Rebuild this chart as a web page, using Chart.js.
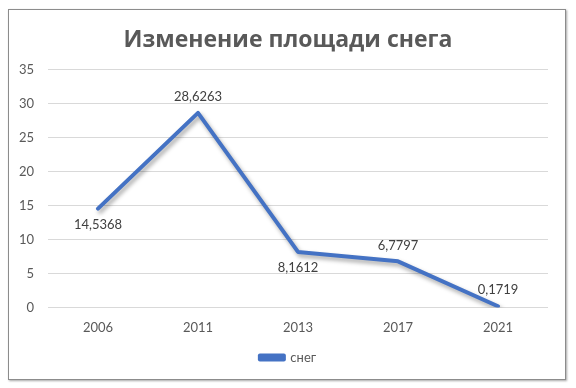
<!DOCTYPE html>
<html lang="ru">
<head>
<meta charset="UTF-8">
<title>Изменение площади снега</title>
<script src="https://cdn.jsdelivr.net/npm/chart.js"></script>
<style>
    html, body { margin: 0; padding: 0; background: #fff; }
    #wrap { position: relative; width: 576px; height: 388px; }
    #frame {
        position: absolute; left: 8px; top: 9px; width: 556px; height: 369px;
        border: 1px solid #8c8c8c; box-shadow: 1px 1px 2px rgba(0,0,0,0.35);
        pointer-events: none;
    }
    canvas { position: absolute; left: 0; top: 0; }
</style>
</head>
<body>
<div id="wrap">
    <canvas id="chart" width="576" height="388"></canvas>
    <div id="frame"></div>
</div>
<script>
// данные графика
const years = ['2006', '2011', '2013', '2017', '2021'];
const snow = [14.5368, 28.6263, 8.1612, 6.7797, 0.1719];
const seriesName = 'снег';
const yTicks = [0, 5, 10, 15, 20, 25, 30, 35];

const lineColor = '#4472C4';
const textColor = '#595959';

// подписи значений (как в Excel, с запятой)
const valueLabels = {
    id: 'valueLabels',
    afterDatasetsDraw(chart, args, opts) {
        const ctx = chart.ctx;
        const meta = chart.getDatasetMeta(0);
        ctx.save();
        ctx.font = '13px Lato, "Open Sans", sans-serif';
        ctx.fillStyle = '#404040';
        ctx.textAlign = 'center';
        ctx.textBaseline = 'middle';
        meta.data.forEach((pt, i) => {
            const dy = opts.where[i] === 'below' ? 16 : -16;
            ctx.fillText(String(snow[i]).replace('.', ','), pt.x, pt.y + dy);
        });
        ctx.restore();
    }
};

// тень под линией
const lineShadow = {
    id: 'lineShadow',
    beforeDatasetDraw(chart) {
        const ctx = chart.ctx;
        ctx.save();
        ctx.shadowColor = 'rgba(0,0,0,0.35)';
        ctx.shadowBlur = 4;
        ctx.shadowOffsetX = 2;
        ctx.shadowOffsetY = 3;
    },
    afterDatasetDraw(chart) {
        chart.ctx.restore();
    }
};

new Chart(document.getElementById('chart'), {
    type: 'line',
    data: {
        labels: years,
        datasets: [{
            label: seriesName,
            data: snow,
            borderColor: lineColor,
            backgroundColor: lineColor,
            borderWidth: 4,
            borderJoinStyle: 'round',
            borderCapStyle: 'round',
            pointRadius: 0,
            tension: 0
        }]
    },
    options: {
        responsive: false,
        animation: false,
        layout: { padding: { left: 16, right: 16, top: 10, bottom: 14 } },
        scales: {
            x: {
                offset: true,
                grid: { display: false },
                border: { display: false },
                ticks: { color: textColor, font: { family: 'Lato, "Open Sans", sans-serif', size: 13 }, padding: 5 }
            },
            y: {
                min: 0,
                max: 35,
                afterBuildTicks(axis) { axis.ticks = yTicks.map(v => ({ value: v })); },
                afterFit(axis) { axis.width = 32; },
                grid: { color: '#d9d9d9', drawTicks: false },
                border: { display: false },
                ticks: { color: textColor, font: { family: 'Lato, "Open Sans", sans-serif', size: 13 }, padding: 14 }
            },
            // пустая правая ось — только отступ справа
            yRight: {
                position: 'right',
                grid: { display: false },
                border: { display: false },
                ticks: { display: false },
                afterFit(axis) { axis.width = 12; }
            }
        },
        plugins: {
            title: {
                display: true,
                text: 'Изменение площади снега',
                color: textColor,
                font: { family: '"Open Sans", sans-serif', size: 23, weight: 'bold' },
                padding: { top: 17, bottom: 15 }
            },
            legend: {
                position: 'bottom',
                labels: {
                    color: textColor,
                    font: { family: 'Lato, "Open Sans", sans-serif', size: 13 },
                    boxWidth: 24,
                    boxHeight: 4,
                    padding: 10
                }
            },
            tooltip: { enabled: false },
            valueLabels: { where: ['below', 'above', 'below', 'above', 'above'] }
        }
    },
    plugins: [valueLabels, lineShadow]
});
</script>
</body>
</html>
